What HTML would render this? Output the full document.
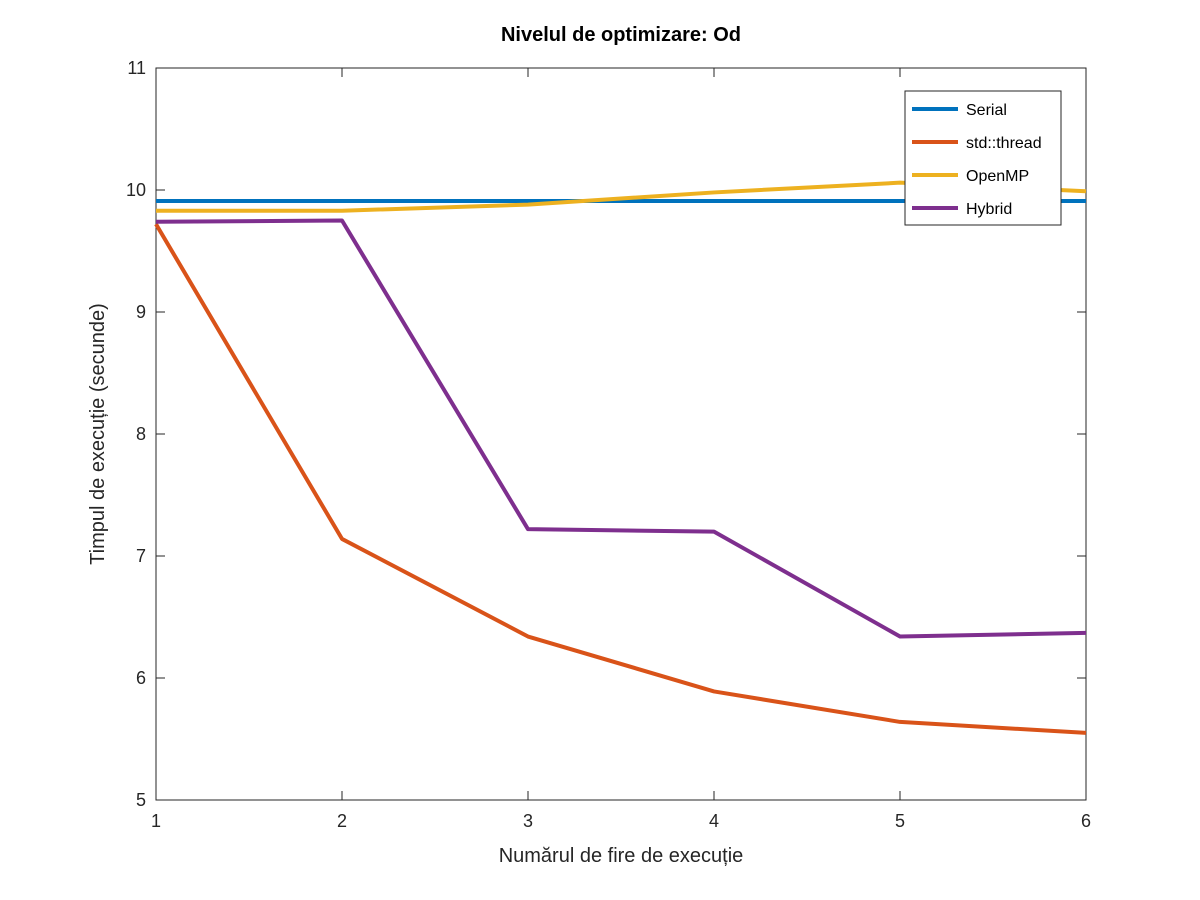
<!DOCTYPE html>
<html><head><meta charset="utf-8"><style>
body{margin:0;background:#fff;}
svg{display:block;font-family:"Liberation Sans",sans-serif;}
</style></head><body>
<svg id="chart" width="1200" height="900"></svg>
<script>
const xCats=[1,2,3,4,5,6];
const serial=[9.91,9.91,9.91,9.91,9.91,9.91];
const stdThread=[9.72,7.14,6.34,5.89,5.64,5.55];
const openMP=[9.83,9.83,9.88,9.98,10.06,9.99];
const hybrid=[9.74,9.75,9.22-2,7.20,6.34,6.37];
hybrid[2]=7.22;
const yTicks=[5,6,7,8,9,10,11];
const seriesNames=["Serial","std::thread","OpenMP","Hybrid"];
const seriesColors=["#0072BD","#D95319","#EDB120","#7E2F8E"];
const seriesData=[serial,stdThread,openMP,hybrid];

const L=156,R=1086,T=68,B=800;
const xs=v=>L+(v-1)/5*(R-L);
const ys=v=>B-(v-5)/6*(B-T);
const svg=document.getElementById('chart');
const NS="http://www.w3.org/2000/svg";
function mk(tag,attrs,parent){const e=document.createElementNS(NS,tag);for(const k in attrs)e.setAttribute(k,attrs[k]);(parent||svg).appendChild(e);return e;}

const frame=mk('rect',{x:L,y:T,width:R-L,height:B-T,fill:'#fff',stroke:'#262626','stroke-width':1});



xCats.forEach(v=>{
  const x=xs(v);
  mk('line',{x1:x,y1:B,x2:x,y2:B-9,stroke:'#262626'});
  mk('line',{x1:x,y1:T,x2:x,y2:T+9,stroke:'#262626'});
  const t=mk('text',{x:x,y:B+27,'text-anchor':'middle','font-size':18,fill:'#262626'});
  t.textContent=v;
  
  
});
yTicks.forEach(v=>{
  const y=ys(v);
  mk('line',{x1:L,y1:y,x2:L+9,y2:y,stroke:'#262626'});
  mk('line',{x1:R,y1:y,x2:R-9,y2:y,stroke:'#262626'});
  const t=mk('text',{x:L-10,y:y+6,'text-anchor':'end','font-size':18,fill:'#262626'});
  t.textContent=v;
  
  
});

seriesData.forEach((d,i)=>{
  const p=mk('polyline',{points:d.map((v,j)=>xs(xCats[j])+','+ys(v)).join(' '),fill:'none',stroke:seriesColors[i],'stroke-width':4,'stroke-linejoin':'round'});
  
  
});

const title=mk('text',{x:621,y:41,'text-anchor':'middle','font-size':20,'font-weight':'bold',fill:'#000'});
title.textContent="Nivelul de optimizare: Od";


const xt=mk('text',{x:621,y:862,'text-anchor':'middle','font-size':20,fill:'#262626'});
xt.textContent="Numărul de fire de execuție";


const yt=mk('text',{x:0,y:0,'text-anchor':'middle','font-size':20,fill:'#262626',transform:'translate(104,434) rotate(-90)'});
yt.textContent="Timpul de execuție (secunde)";



const lg=mk('g',{});


mk('rect',{x:905,y:91,width:156,height:134,fill:'#fff',stroke:'#262626'},lg);
seriesNames.forEach((n,i)=>{
  const y=109+i*33;
  const ln=mk('line',{x1:912,y1:y,x2:958,y2:y,stroke:seriesColors[i],'stroke-width':4},lg);
  
  
  const t=mk('text',{x:966,y:y+6,'font-size':16,fill:'#000'},lg);
  t.textContent=n;
  
  
});
</script>
</body></html>
